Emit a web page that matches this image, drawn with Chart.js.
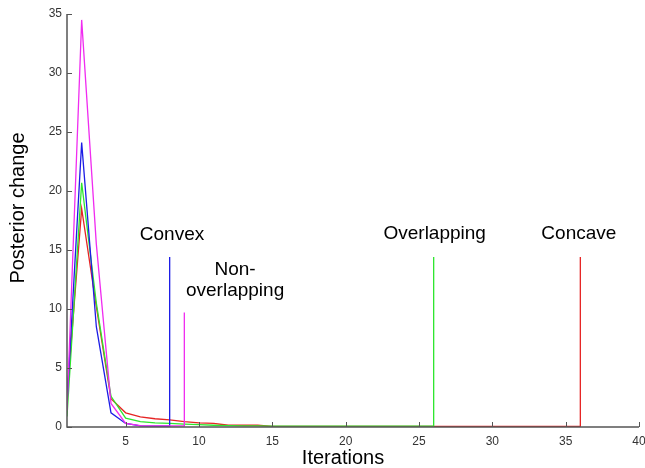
<!DOCTYPE html>
<html>
<head>
<meta charset="utf-8">
<script src="https://cdn.jsdelivr.net/npm/chart.js@4"></script>
<style>
  html, body { margin: 0; padding: 0; background: #fff; }
</style>
</head>
<body>
<canvas id="c" width="645" height="468"></canvas>
<script>
// ---- data ----
const convexVals        = [2.0, 24.1, 8.5, 1.2, 0.3, 0.1, 0.08, 0.08];
const nonOverlapVals    = [1.4, 34.5, 15.5, 2.0, 0.3, 0.12, 0.1, 0.1, 0.1];
const overlapVals       = [0.9, 20.7, 10.5, 2.6, 0.75, 0.45, 0.35, 0.3, 0.25, 0.2, 0.15, 0.12,
                           0.1, 0.1, 0.08, 0.08, 0.08, 0.08, 0.08, 0.08, 0.08, 0.08, 0.08, 0.08, 0.08, 0.08];
const concaveVals       = [2.6, 18.5, 10.2, 2.4, 1.2, 0.85, 0.7, 0.6, 0.45, 0.35, 0.3, 0.15,
                           0.15, 0.15, 0.06, 0.05, 0.05, 0.05, 0.05, 0.05, 0.05, 0.05, 0.05, 0.05,
                           0.05, 0.05, 0.05, 0.05, 0.05, 0.05, 0.05, 0.05, 0.05, 0.05, 0.05, 0.05];
const seriesNames   = ['Convex', 'Non-overlapping', 'Overlapping', 'Concave'];
const endMarkerHeights = [14.4, 9.7, 14.4, 14.4];   // vertical stop markers at last iteration
const xTickValues = [5, 10, 15, 20, 25, 30, 35, 40];
const yTickValues = [0, 5, 10, 15, 20, 25, 30, 35];
const xTitle = 'Iterations';
const yTitle = 'Posterior change';

// annotation labels (text lines, anchored in data coordinates)
const labelTexts = [['Convex'], ['Non-', 'overlapping'], ['Overlapping'], ['Concave']];
const labelAnchors = [{x: 8.16, y: 16.3}, {x: 12.46, y: 13.3}, {x: 26.07, y: 16.4}, {x: 35.9, y: 16.4}];

const colors = ['#1c1ce6', '#f02cf0', '#2ee62e', '#e62424'];
const allVals = [convexVals, nonOverlapVals, overlapVals, concaveVals];

function buildSeries(vals, marker) {
  const pts = vals.map((v, i) => ({x: i + 1, y: v}));
  pts.push({x: vals.length, y: marker});
  return pts;
}

const drawOrder = [2, 1, 3, 4]; // smaller = drawn on top
const datasets = allVals.map((vals, i) => ({
  label: seriesNames[i],
  data: buildSeries(vals, endMarkerHeights[i]),
  borderColor: colors[i],
  backgroundColor: colors[i],
  borderWidth: 1.3,
  pointRadius: 0,
  tension: 0,
  fill: false,
  order: drawOrder[i]
}));

const FONT = '"Liberation Sans", Arial, sans-serif';

const axisPlugin = {
  id: 'matlabAxes',
  afterDatasetsDraw(chart) {
    const {ctx, chartArea: a, scales: {x, y}} = chart;
    ctx.save();
    ctx.strokeStyle = '#555';
    ctx.lineWidth = 1.5;
    ctx.beginPath();
    ctx.moveTo(a.left, a.top);
    ctx.lineTo(a.left, a.bottom);
    ctx.lineTo(a.right, a.bottom);
    ctx.stroke();
    ctx.lineWidth = 1;
    ctx.beginPath();
    xTickValues.forEach(v => {
      const px = Math.round(x.getPixelForValue(v)) + 0.5;
      ctx.moveTo(px, a.bottom);
      ctx.lineTo(px, a.bottom - 5);
    });
    yTickValues.forEach(v => {
      const py = Math.round(y.getPixelForValue(v)) + 0.5;
      ctx.moveTo(a.left, py);
      ctx.lineTo(a.left + 5, py);
    });
    ctx.stroke();

    // annotation texts
    ctx.fillStyle = '#000';
    ctx.font = '19px ' + FONT;
    ctx.textAlign = 'center';
    ctx.textBaseline = 'middle';
    labelTexts.forEach((lines, i) => {
      const cx = x.getPixelForValue(labelAnchors[i].x);
      const cy = y.getPixelForValue(labelAnchors[i].y);
      lines.forEach((t, j) => ctx.fillText(t, cx, cy + j * 21));
    });

    // axis titles
    ctx.font = '20px ' + FONT;
    ctx.fillText(xTitle, 343, 458);
    ctx.translate(18, 208);
    ctx.rotate(-Math.PI / 2);
    ctx.fillText(yTitle, 0, 0);
    ctx.restore();
  }
};

new Chart(document.getElementById('c'), {
  type: 'line',
  data: { datasets },
  options: {
    responsive: false,
    animation: false,
    events: [],
    layout: { padding: { left: 0, right: 6, top: 14, bottom: 0 } },
    plugins: { legend: { display: false }, tooltip: { enabled: false } },
    scales: {
      x: {
        type: 'linear',
        min: 1, max: 40,
        afterBuildTicks: s => { s.ticks = xTickValues.map(v => ({value: v})); },
        afterFit: s => { s.height = 41; s.paddingLeft = 0; s.paddingRight = 0; },
        grid: { display: false, drawTicks: false },
        border: { display: false },
        ticks: {
          color: '#333',
          padding: 7,
          maxRotation: 0,
          font: { family: FONT, size: 12 }
        }
      },
      y: {
        type: 'linear',
        min: 0, max: 35,
        afterBuildTicks: s => { s.ticks = yTickValues.map(v => ({value: v})); },
        afterFit: s => { s.width = 67; s.paddingTop = 0; s.paddingBottom = 0; },
        grid: { display: false, drawTicks: false },
        border: { display: false },
        ticks: {
          color: '#333',
          padding: 5,
          font: { family: FONT, size: 12 }
        }
      }
    }
  },
  plugins: [axisPlugin]
});
</script>
</body>
</html>
